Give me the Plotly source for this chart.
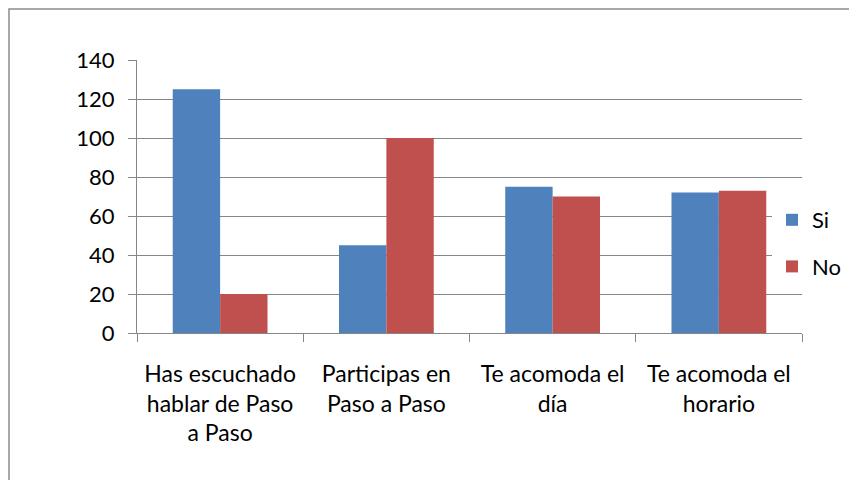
import plotly.graph_objects as go

categories = [
    "Has escuchado<br>hablar de Paso<br>a Paso",
    "Participas en<br>Paso a Paso",
    "Te acomoda el<br>día",
    "Te acomoda el<br>horario",
]
si_values = [125, 45, 75, 72]
no_values = [20, 100, 70, 73]
y_ticks = [0, 20, 40, 60, 80, 100, 120, 140]

W, H = 857, 480
# the page puts the figure 8px in from the top-left corner
OFF = 8
L, R, T, B = 137 - OFF, 55 + OFF, 60 - OFF, 147 + OFF
plot_w = W - L - R
plot_h = H - T - B

grid_col = "#868686"
font = dict(family="Lato, 'Open Sans', sans-serif", size=22, color="#000000")

fig = go.Figure()
fig.add_trace(go.Bar(name="Si", x=categories, y=si_values,
                     marker=dict(color="#4F81BD", line=dict(width=0)),
                     legendgroup="si"))
fig.add_trace(go.Bar(name="No", x=categories, y=no_values,
                     marker=dict(color="#C0504D", line=dict(width=0)),
                     legendgroup="no"))


def px_x(v):
    # v: page pixel position
    return (v - OFF - L) / plot_w


def px_y(v):
    return (H - B - (v - OFF)) / plot_h


# outer chart border (right/bottom run off the picture)
fig.add_shape(type="rect", xref="paper", yref="paper",
              x0=px_x(9), x1=px_x(W + 400), y0=px_y(H + 40), y1=px_y(9),
              line=dict(color="#8c8c8c", width=1.5), fillcolor="rgba(0,0,0,0)",
              layer="below")

fig.update_layout(
    width=W, height=H,
    margin=dict(l=L, r=R, t=T, b=B, autoexpand=False),
    plot_bgcolor="white", paper_bgcolor="white",
    font=font,
    barmode="group", bargap=0.43, bargroupgap=0,
    showlegend=True,
    legend=dict(x=px_x(772), y=px_y(199), xanchor="left", yanchor="top",
                bgcolor="white", font=dict(size=22), tracegroupgap=15,
                traceorder="grouped", itemwidth=30),
)

fig.update_xaxes(
    showline=True, linecolor=grid_col, linewidth=1, automargin=False,
    ticks="outside", tickson="boundaries", ticklen=8, tickcolor=grid_col,
    ticklabelstandoff=20, showgrid=False, tickfont=dict(size=23),
)
fig.update_yaxes(
    range=[0, 140], tickvals=y_ticks, showgrid=True, gridcolor=grid_col,
    gridwidth=1, showline=True, linecolor=grid_col, linewidth=1,
    ticks="outside", ticklen=8, tickcolor=grid_col, ticklabelstandoff=9,
    zeroline=False, automargin=False,
)

fig.write_html("out.html")
